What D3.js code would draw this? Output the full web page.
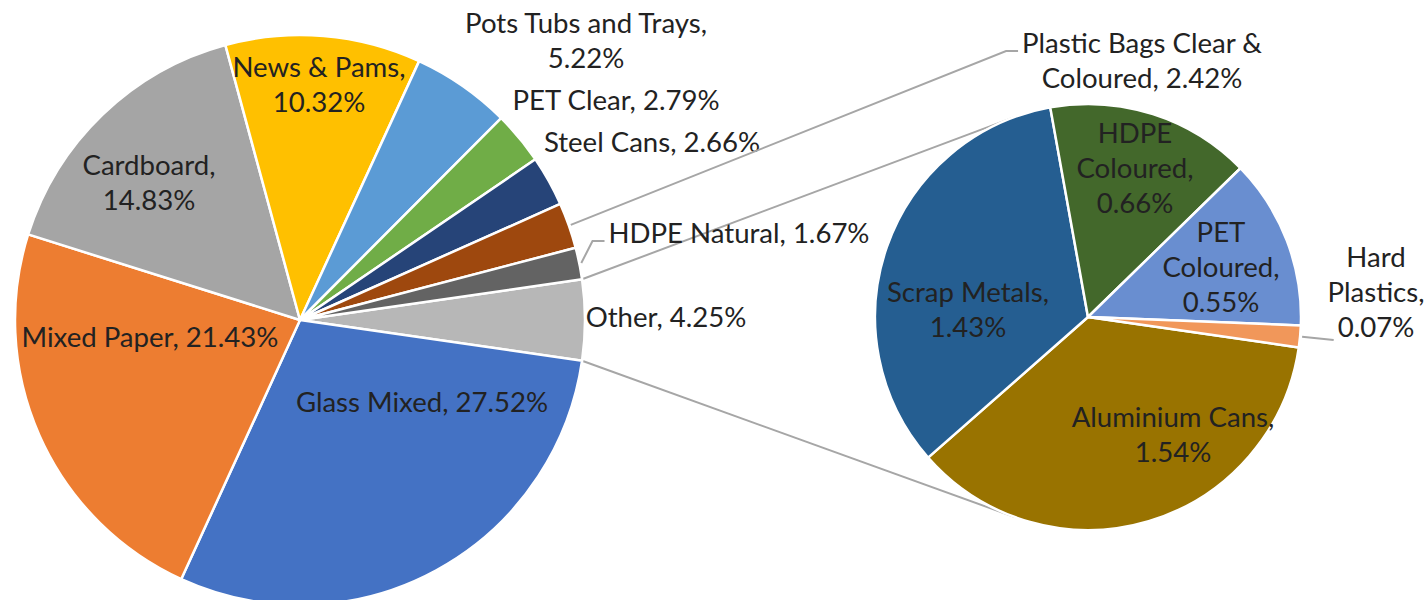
<!DOCTYPE html>
<html>
<head>
<meta charset="utf-8">
<script src="https://cdn.jsdelivr.net/npm/d3@7"></script>
<style>
	body { margin: 0; background: #fff; }
</style>
</head>
<body>
<svg id="chart"></svg>
<script>
// main pie values (share of total, %)
var mainNames = ["Glass Mixed", "Mixed Paper", "Cardboard", "News & Pams", "Pots Tubs and Trays",
	"PET Clear", "Steel Cans", "Plastic Bags Clear & Coloured", "HDPE Natural"];
var mainValues = [27.52, 21.43, 14.83, 10.32, 5.22, 2.79, 2.66, 2.42, 1.67];
var mainColors = ["#4472C4", "#ED7D31", "#A5A5A5", "#FFC000", "#5B9BD5",
	"#70AD47", "#264478", "#9E480E", "#636363"];

// split-off "Other" slice, broken down in the second pie
var otherName = "Other";
var otherColor = "#B7B7B7";
var subNames = ["Aluminium Cans", "Scrap Metals", "HDPE Coloured", "PET Coloured", "Hard Plastics"];
var subValues = [1.54, 1.43, 0.66, 0.55, 0.07];
var subColors = ["#997300", "#255E91", "#43682B", "#698ED0", "#F1975A"];

var W = 1427, H = 600;
var mainC = {x: 300, y: 320}, mainR = 285;
var subC = {x: 1088, y: 317}, subR = 213;
var fontFam = "Lato, 'Open Sans', sans-serif";
var textCol = "#222222";
var lineCol = "#A6A6A6";
var lineH = 35;

// where Excel put each label: offset from its pie centre (first baseline), wrap width
var labelLayout = {
	"Glass Mixed":                   {pie: "main", dx: 122,  dy: 92,   wrap: 400},
	"Mixed Paper":                   {pie: "main", dx: -150, dy: 27,   wrap: 400},
	"Cardboard":                     {pie: "main", dx: -151, dy: -145, wrap: 150},
	"News & Pams":                   {pie: "main", dx: 19,   dy: -243, wrap: 180},
	"Pots Tubs and Trays":           {pie: "main", dx: 286,  dy: -287, wrap: 260},
	"PET Clear":                     {pie: "main", dx: 316,  dy: -210, wrap: 400},
	"Steel Cans":                    {pie: "main", dx: 352,  dy: -168, wrap: 400},
	"Plastic Bags Clear & Coloured": {pie: "main", dx: 842,  dy: -267, wrap: 240, leader: 0, elbow: true},
	"HDPE Natural":                  {pie: "main", dx: 439,  dy: -77,  wrap: 400, leader: 0, elbow: true},
	"Other":                         {pie: "main", dx: 366,  dy: 7,    wrap: 400},
	"Aluminium Cans":                {pie: "sub",  dx: 85,   dy: 110,  wrap: 210},
	"Scrap Metals":                  {pie: "sub",  dx: -120, dy: -15,  wrap: 170},
	"HDPE Coloured":                 {pie: "sub",  dx: 47,   dy: -174, wrap: 130},
	"PET Coloured":                  {pie: "sub",  dx: 133,  dy: -75,  wrap: 130},
	"Hard Plastics":                 {pie: "sub",  dx: 288,  dy: -50,  wrap: 100, leader: 2, elbow: false}
};

var svg = d3.select("#chart")
	.attr("width", W)
	.attr("height", H)
	.style("font-family", fontFam);

// size the font so the text runs as wide as in the picture
var probe = svg.append("text").attr("font-size", 29).text("Pots Tubs and Trays,");
var fontSize = 29 * 242 / probe.node().getComputedTextLength();
probe.attr("font-size", fontSize);

function textWidth(s) {
	probe.text(s);
	return probe.node().getComputedTextLength();
}

var otherValue = d3.sum(subValues);
var mainData = [{name: otherName, value: otherValue, color: otherColor}].concat(
	mainNames.map(function(n, i) { return {name: n, value: mainValues[i], color: mainColors[i]}; }));
var subData = subNames.map(function(n, i) { return {name: n, value: subValues[i], color: subColors[i]}; });

var total = d3.sum(mainData, function(d) { return d.value; });
var otherAngle = 2 * Math.PI * otherValue / total;
var mainStart = Math.PI / 2 - otherAngle / 2;
var subStart = Math.PI / 2 + otherAngle / 2;

var mainArcs = d3.pie().sort(null).value(function(d) { return d.value; })
	.startAngle(mainStart).endAngle(mainStart + 2 * Math.PI)(mainData);
var subArcs = d3.pie().sort(null).value(function(d) { return d.value; })
	.startAngle(subStart).endAngle(subStart + 2 * Math.PI)(subData);

function pt(c, r, a) {
	return [c.x + r * Math.sin(a), c.y - r * Math.cos(a)];
}

function tangent(p, c, r, upper) {
	var vx = p[0] - c.x, vy = p[1] - c.y, d = Math.hypot(vx, vy);
	var phi = Math.atan2(vy, vx), al = Math.acos(r / d);
	var t1 = [c.x + r * Math.cos(phi + al), c.y + r * Math.sin(phi + al)];
	var t2 = [c.x + r * Math.cos(phi - al), c.y + r * Math.sin(phi - al)];
	if (upper) return t1[1] < t2[1] ? t1 : t2;
	return t1[1] > t2[1] ? t1 : t2;
}

// connector lines between the "Other" slice and the second pie
var topCorner = pt(mainC, mainR, mainStart);
var botCorner = pt(mainC, mainR, mainStart + otherAngle);
var connectors = [[topCorner, tangent(topCorner, subC, subR, true)],
	[botCorner, tangent(botCorner, subC, subR, false)]];

svg.append("g")
	.selectAll("line")
	.data(connectors)
	.enter()
	.append("line")
	.attr("x1", function(d) { return d[0][0]; })
	.attr("y1", function(d) { return d[0][1]; })
	.attr("x2", function(d) { return d[1][0]; })
	.attr("y2", function(d) { return d[1][1]; })
	.attr("stroke", lineCol)
	.attr("stroke-width", 2);

function drawPie(arcs, c, r) {
	var arc = d3.arc().innerRadius(0).outerRadius(r);
	svg.append("g")
		.attr("transform", "translate(" + c.x + "," + c.y + ")")
		.selectAll("path")
		.data(arcs)
		.enter()
		.append("path")
		.attr("d", arc)
		.attr("fill", function(d) { return d.data.color; })
		.attr("stroke", "#fff")
		.attr("stroke-width", 2.5)
		.attr("stroke-linejoin", "round");
}
drawPie(mainArcs, mainC, mainR);
drawPie(subArcs, subC, subR);

function wrapWords(s, maxW) {
	var words = s.split(" "), lines = [], cur = "";
	words.forEach(function(w) {
		var test = cur ? cur + " " + w : w;
		if (cur && textWidth(test) > maxW) {
			lines.push(cur);
			cur = w;
		} else {
			cur = test;
		}
	});
	lines.push(cur);
	return lines;
}

var labelG = svg.append("g");
var leaderG = svg.append("g");

function drawLabels(arcs, c, r) {
	arcs.forEach(function(a) {
		var lay = labelLayout[a.data.name];
		var str = a.data.name + ", " + a.data.value.toFixed(2) + "%";
		var lines = wrapWords(str, lay.wrap);
		var x = c.x + lay.dx, y = c.y + lay.dy;

		var t = labelG.append("text")
			.attr("x", x)
			.attr("y", y)
			.attr("text-anchor", "middle")
			.attr("font-size", fontSize)
			.attr("fill", textCol);
		t.selectAll("tspan")
			.data(lines)
			.enter()
			.append("tspan")
			.attr("x", x)
			.attr("dy", function(d, i) { return i ? lineH : 0; })
			.text(function(d) { return d; });

		if (lay.leader !== undefined) {
			var li = lay.leader;
			var left = x - textWidth(lines[li]) / 2;
			var base = y + li * lineH;
			var start = pt(c, r + 2, (a.startAngle + a.endAngle) / 2);
			var pts;
			if (lay.elbow) {
				var end = [left - 4, base - 2];
				pts = [start, [end[0] - 12, end[1]], end];
			} else {
				pts = [start, [left - 4, base + 3]];
			}
			leaderG.append("path")
				.attr("d", d3.line()(pts))
				.attr("fill", "none")
				.attr("stroke", lineCol)
				.attr("stroke-width", 2);
		}
	});
}
drawLabels(mainArcs, mainC, mainR);
drawLabels(subArcs, subC, subR);

probe.remove();
</script>
</body>
</html>
